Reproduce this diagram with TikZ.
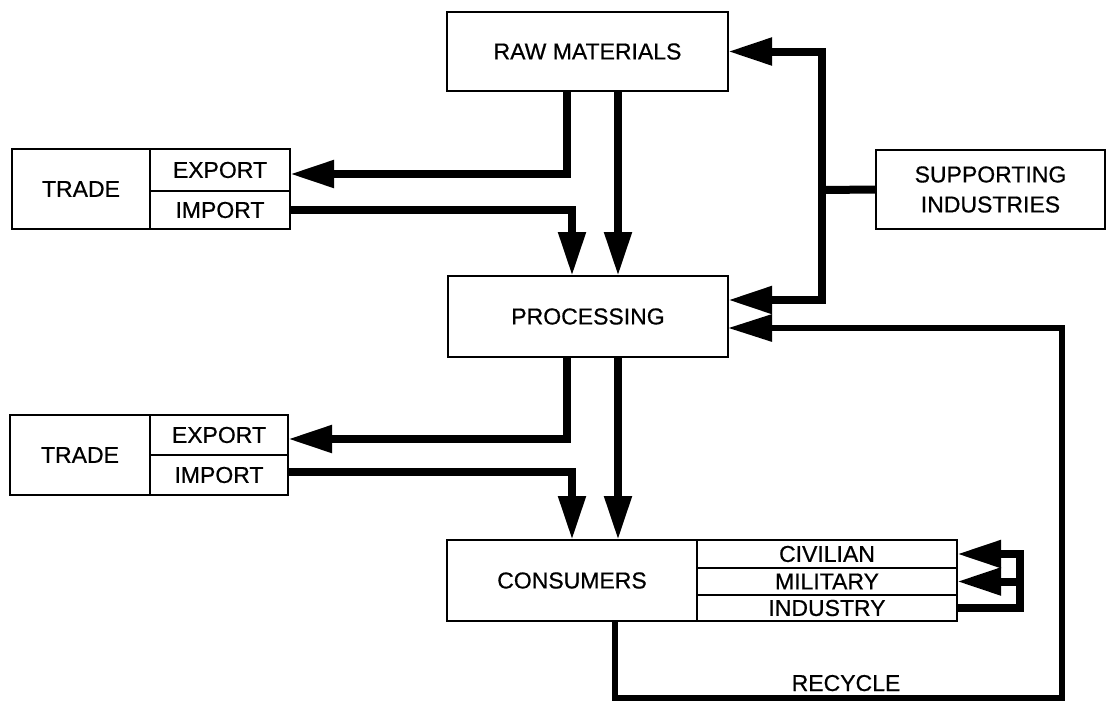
\documentclass[tikz,border=0pt]{standalone}
\usepackage{fontspec}
\setmainfont{Liberation Sans}[FakeBold=0.6]
\usetikzlibrary{arrows.meta,calc}
\begin{document}
\begin{tikzpicture}[x=1pt,y=-1pt,
  font=\fontsize{23}{30}\selectfont,
  box/.style={draw, line width=1.8pt, inner sep=0pt, outer sep=0pt, align=center},
  flow/.style={line width=8pt, -{Triangle[length=44pt,width=26pt]}},
  plain/.style={line width=8pt}]
\useasboundingbox (0,0) rectangle (1116,702);
% boxes
\node[box, minimum width=281pt, minimum height=79pt] (raw) at (587.5,51.5) {RAW MATERIALS};
\node[box, minimum width=280pt, minimum height=81pt] (proc) at (588,316.5) {PROCESSING};
\node[box, minimum width=229pt, minimum height=79pt] (supp) at (990.5,189.5) {SUPPORTING\\INDUSTRIES};
\node[box, minimum width=138pt, minimum height=80pt] (trade1) at (81,189) {TRADE};
\node[box, minimum width=140pt, minimum height=42pt] (exp1) at (220,170) {EXPORT};
\node[box, minimum width=140pt, minimum height=38pt] (imp1) at (220,210) {IMPORT};
\node[box, minimum width=140pt, minimum height=80pt] (trade2) at (80,455) {TRADE};
\node[box, minimum width=138pt, minimum height=40pt] (exp2) at (219,435) {EXPORT};
\node[box, minimum width=138pt, minimum height=40pt] (imp2) at (219,475) {IMPORT};
\node[box, minimum width=250pt, minimum height=81pt] (cons) at (572,580.5) {CONSUMERS};
\node[box, minimum width=260pt, minimum height=28pt] (civ) at (827,554) {CIVILIAN};
\node[box, minimum width=260pt, minimum height=27pt] (mil) at (827,581.5) {MILITARY};
\node[box, minimum width=260pt, minimum height=26pt] (ind) at (827,608) {INDUSTRY};
\node[anchor=base, inner sep=0pt] (rec) at (846,691) {RECYCLE};
% helper coordinates
\coordinate (c1) at (567,0);
\coordinate (c2) at (572,0);
\coordinate (c3) at (618,0);
\coordinate (c5) at (615,0);
\coordinate (j) at (822,190);
\coordinate (rb) at (1062,698);
\coordinate (lp) at (1020,0);
\coordinate (lt) at (1020,554);
% raw materials level
\draw[flow] (raw.south -| c1) |- ($(exp1.east)+(0,4)$);
\draw[flow] (imp1.east) -| (proc.north -| c2);
\draw[flow] (raw.south -| c3) -- (proc.north -| c3);
% supporting industries
\draw[plain] (supp.west) -- (j);
\draw[flow] (j) |- (raw.east);
\draw[flow] (j) |- ($(proc.east)+(0,-16.5)$);
% processing level
\draw[flow] (proc.south -| c1) |- ($(exp2.east)+(0,4)$);
\draw[flow] ($(imp2.east)+(0,-3)$) -| (cons.north -| c2);
\draw[flow] (proc.south -| c3) -- (cons.north -| c3);
% recycle
\draw[flow, line width=6pt] (cons.south -| c5) |- (rb) |- ($(proc.east)+(0,11.5)$);
% consumer loop
\draw[flow] (ind.east) -| (lt) -- (civ.east);
\draw[flow] (lp |- mil.east) -- (mil.east);
\end{tikzpicture}
\end{document}
